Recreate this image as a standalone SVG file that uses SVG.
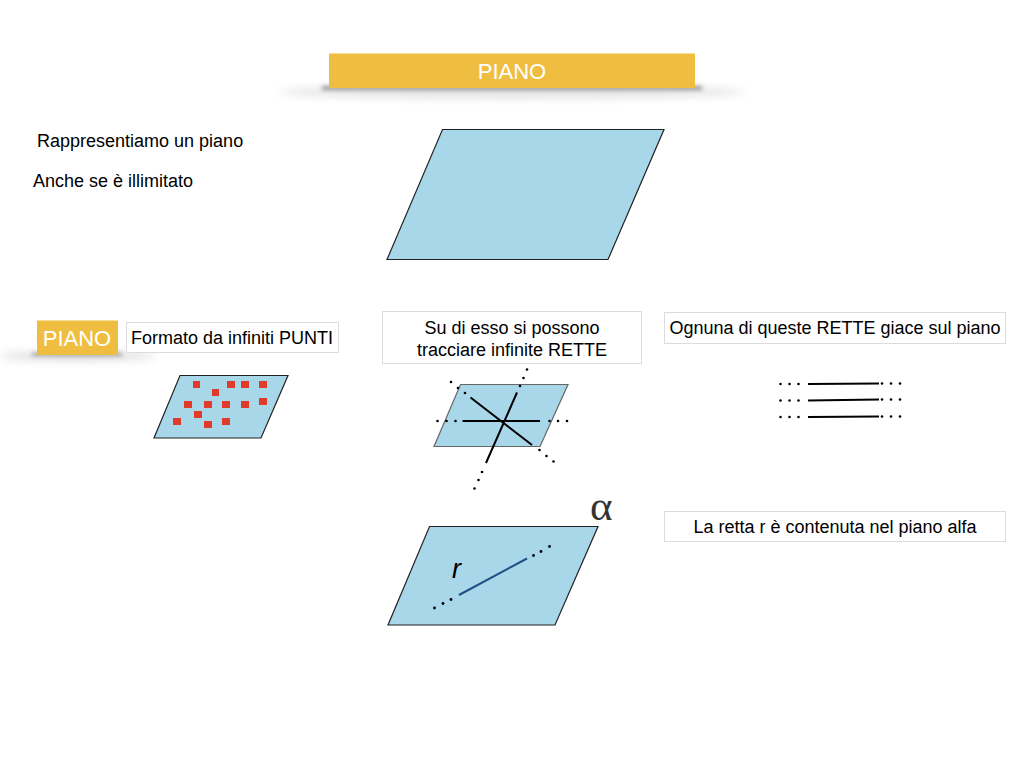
<svg xmlns="http://www.w3.org/2000/svg" width="1024" height="768" viewBox="0 0 1024 768">
<defs>
<style>
text{font-family:"Liberation Sans",Arial,sans-serif;fill:#000}
.t{font-size:18px}
.c{text-anchor:middle}
.w{fill:#fff}
.plane{fill:#a9d7ea;stroke:#222;stroke-width:1.2}
.box{fill:#fff;stroke:#dcdcdc;stroke-width:1}
.gold{fill:#efbe40}
.pt{fill:#e03a2c}
.ln{stroke:#000;stroke-width:2;fill:none}
.d{fill:#000}
</style>
<filter id="blur" x="-30%" y="-300%" width="160%" height="700%"><feGaussianBlur stdDeviation="4"/></filter>
<filter id="blur2" x="-30%" y="-300%" width="160%" height="700%"><feGaussianBlur stdDeviation="2"/></filter>
</defs>
<rect width="1024" height="768" fill="#fff"/>
<g id="title">
<ellipse cx="512" cy="92" rx="235" ry="7" fill="#000" opacity=".1" filter="url(#blur)"/>
<rect x="322" y="86" width="380" height="4" fill="#444" opacity=".55" filter="url(#blur2)"/>
<rect class="gold" x="329" y="53.500" width="366" height="34.500"/>
<text class="w c" x="512" y="78.500" font-size="22">PIANO</text>
</g>
<g id="intro">
<text class="t" x="37" y="147">Rappresentiamo un piano</text>
<text class="t" x="33" y="187">Anche se è illimitato</text>
</g>
<g id="plane-main"><polygon class="plane" points="442.500,129.500 664,129.500 608,259.500 387,259.500"/></g>
<g id="piano-tag">
<ellipse cx="78" cy="356" rx="78" ry="5" fill="#000" opacity=".12" filter="url(#blur)"/>
<rect x="32" y="353" width="90" height="3" fill="#444" opacity=".5" filter="url(#blur2)"/>
<rect class="gold" x="37" y="320.500" width="81" height="34.500"/>
<text class="w c" x="77" y="345.500" font-size="22">PIANO</text>
</g>
<g id="label-punti">
<rect class="box" x="126.500" y="322.500" width="212" height="30"/>
<text class="t c" x="232" y="344">Formato da infiniti PUNTI</text>
</g>
<g id="plane-punti">
<polygon class="plane" points="180,375.500 288,375.500 261,438 154,438"/>
<rect class="pt" x="193" y="381" width="7" height="7"/>
<rect class="pt" x="227" y="381" width="8" height="7"/>
<rect class="pt" x="241" y="381" width="8" height="7"/>
<rect class="pt" x="259" y="381" width="8" height="7"/>
<rect class="pt" x="212" y="389" width="7" height="7"/>
<rect class="pt" x="184" y="401" width="8" height="7"/>
<rect class="pt" x="204" y="401" width="8" height="7"/>
<rect class="pt" x="222" y="401" width="8" height="7"/>
<rect class="pt" x="241" y="401" width="8" height="7"/>
<rect class="pt" x="259" y="398" width="8" height="7"/>
<rect class="pt" x="194" y="411" width="8" height="7"/>
<rect class="pt" x="173" y="418" width="8" height="7"/>
<rect class="pt" x="204" y="421" width="8" height="7"/>
<rect class="pt" x="222" y="418" width="8" height="7"/>
</g>
<g id="label-rette">
<rect class="box" x="382.500" y="311.500" width="259" height="52"/>
<text class="t c" x="512" y="334">Su di esso si possono</text>
<text class="t c" x="512" y="356">tracciare infinite RETTE</text>
</g>
<g id="plane-rette">
<polygon fill="#a9d7ea" stroke="#666" stroke-width="1.2" points="460.500,384.500 568,384.500 540,446.500 434,446.500"/>
<path class="ln" d="M462.500 421H540M470.500 397.500L532 445M517 392.500L486 463"/>
<g class="d">
<circle cx="451" cy="382" r="1.300"/><circle cx="458" cy="388" r="1.300"/><circle cx="465" cy="393" r="1.300"/>
<circle cx="437.500" cy="421" r="1.300"/><circle cx="446.500" cy="421" r="1.300"/><circle cx="455.500" cy="421" r="1.300"/>
<circle cx="549.500" cy="421" r="1.300"/><circle cx="558" cy="421" r="1.300"/><circle cx="567" cy="421" r="1.300"/>
<circle cx="527" cy="369.500" r="1.300"/><circle cx="523.500" cy="378" r="1.300"/><circle cx="520" cy="386" r="1.300"/>
<circle cx="539.500" cy="450" r="1.300"/><circle cx="546.500" cy="456" r="1.300"/><circle cx="553.500" cy="461.500" r="1.300"/>
<circle cx="482" cy="472" r="1.300"/><circle cx="478.500" cy="480" r="1.300"/><circle cx="474.500" cy="488.500" r="1.300"/>
</g>
</g>
<g id="label-giace">
<rect class="box" x="664.500" y="312.500" width="341" height="31"/>
<text class="t c" x="835" y="334">Ognuna di queste RETTE giace sul piano</text>
</g>
<g id="lines-parallel">
<path class="ln" d="M808 384L879 383.500M808 400.500L879 399.500M808 417L879 416.500"/>
<g class="d">
<circle cx="780.500" cy="384" r="1.300"/><circle cx="789.500" cy="384" r="1.300"/><circle cx="798.500" cy="384" r="1.300"/>
<circle cx="882" cy="383.500" r="1.300"/><circle cx="891" cy="383.500" r="1.300"/><circle cx="900" cy="383.500" r="1.300"/>
<circle cx="780.500" cy="400.500" r="1.300"/><circle cx="789.500" cy="400.500" r="1.300"/><circle cx="798.500" cy="400.500" r="1.300"/>
<circle cx="882" cy="399.500" r="1.300"/><circle cx="891" cy="399.500" r="1.300"/><circle cx="900" cy="399.500" r="1.300"/>
<circle cx="780.500" cy="417" r="1.300"/><circle cx="789.500" cy="417" r="1.300"/><circle cx="798.500" cy="417" r="1.300"/>
<circle cx="882" cy="416.500" r="1.300"/><circle cx="891" cy="416.500" r="1.300"/><circle cx="900" cy="416.500" r="1.300"/>
</g>
</g>
<g id="plane-alfa">
<polygon class="plane" points="429.500,526.500 598,526.500 555,625 388,625"/>
<path d="M459 595L527 558.500" stroke="#1f4f85" stroke-width="2" fill="none"/>
<g class="d">
<circle cx="434.500" cy="608" r="1.400"/><circle cx="443" cy="603.500" r="1.400"/><circle cx="451" cy="599.500" r="1.400"/>
<circle cx="533.500" cy="555.500" r="1.400"/><circle cx="541" cy="551.500" r="1.400"/><circle cx="549.500" cy="546.500" r="1.400"/>
</g>
<text x="452" y="578" font-size="27" font-style="italic">r</text>
<text x="590" y="520" font-size="43" style="font-family:'Liberation Serif','DejaVu Serif',serif;fill:#333">α</text>
</g>
<g id="label-alfa">
<rect class="box" x="664.500" y="511.500" width="341" height="30"/>
<text class="t c" x="835" y="533">La retta r è contenuta nel piano alfa</text>
</g>
</svg>
